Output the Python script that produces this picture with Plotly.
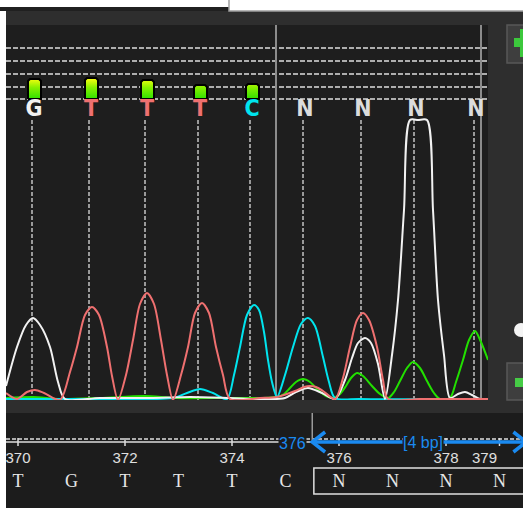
import plotly.graph_objects as go

W, H = 523, 508

# ---------------- data ----------------
call_scan = [32, 89, 145, 198, 250, 303, 361, 414, 474]
call_base = ["G", "T", "T", "T", "C", "N", "N", "N", "N"]
call_qual = [20, 21, 19, 14, 15]          # quality bar heights of the called bases

g_scan = [6, 17, 26, 33, 40, 50, 58, 65, 100, 150, 190, 230, 260, 285, 296, 308, 322, 335,
          345, 352, 358, 365, 371, 378, 385, 392, 398, 404, 410, 418, 427, 433, 438, 444, 450, 458, 465, 472, 480, 488]
g_sig = [14, 53, 75, 82, 75, 53, 18, 1, 2, 2, 3, 2, 1, 2, 8, 12, 7, 1,
         20, 42, 57, 62, 57, 36, 1, 45, 100, 190, 280, 280, 280, 190, 100, 45, 2, 6, 8, 5, 1, 1]

t_scan = [6, 17, 27, 35, 44, 60, 70, 77, 85, 92, 99, 107, 112, 118,
          126, 133, 140, 147, 154, 161, 167, 173,
          181, 188, 195, 202, 209, 216, 223, 230,
          260, 277, 295, 304, 310, 316, 323, 335,
          343, 350, 357, 363, 369, 377, 383, 388, 420, 488]
t_sig = [7, 1, 8, 10, 7, 0, 28, 53, 85, 93, 85, 53, 24, 0,
         25, 60, 96, 107, 96, 60, 25, 0,
         25, 53, 87, 97, 87, 53, 25, 1,
         2, 3, 9, 13, 14, 13, 9, 1,
         22, 53, 80, 87, 80, 53, 20, 1, 1, 1]

c_scan = [6, 100, 173, 187, 200, 213, 227, 234, 240, 247, 254, 259, 264, 268, 272, 277,
          285, 293, 301, 308, 315, 323, 329, 335, 360, 488]
c_sig = [1, 1, 2, 7, 11, 7, 1, 25, 53, 85, 95, 90, 68, 40, 18, 3,
         25, 53, 76, 82, 74, 43, 18, 2, 1, 1]

a_scan = [6, 33, 60, 100, 145, 175, 230, 260, 277, 284, 290, 296, 303, 310, 318, 326, 333,
          340, 346, 351, 357, 363, 372, 380, 388, 394, 400, 407, 413, 420, 427, 434, 440,
          450, 456, 463, 469, 475, 481, 488]
a_sig = [2, 3, 1, 2, 4, 2, 2, 2, 3, 6, 12, 18, 21, 18, 10, 4, 2,
         6, 14, 22, 27, 24, 14, 6, 2, 8, 19, 32, 38, 32, 19, 7, 1,
         2, 18, 40, 60, 69, 58, 40]

boundary_scans = [276, 481]
qual_levels = [352, 339, 326, 313, 301]

seq_pos = list(range(370, 380))
seq_base = list("TGTTTCNNNN")
ruler_ticks = [370, 372, 374, 376, 378]
last_tick = 379
sel_start, sel_end = 375.5, 379.5
sel_label = "[4 bp]"

# ---------------- styles ----------------
COL = {"G": "#f2f2f2", "T": "#ef7070", "C": "#00e4ee", "A": "#22e000", "N": "#dcdcdc"}
BLUE = "#1a8af0"


def PX(x):
    return x / W


def PY(y):
    return 1 - y / H


fig = go.Figure()

# traces (green, cyan, white, red)
for sc, sg, c in [(a_scan, a_sig, COL["A"]), (c_scan, c_sig, COL["C"]),
                  (g_scan, g_sig, COL["G"]), (t_scan, t_sig, COL["T"])]:
    fig.add_trace(go.Scatter(x=sc, y=sg, mode="lines",
                             line=dict(color=c, width=2, shape="spline", smoothing=0.8),
                             hoverinfo="skip", showlegend=False))

# quality bars
bar_base = qual_levels[-1]
for xs, q in zip(call_scan, call_qual):
    cx = xs + 2.5
    hw = 6.5
    ch = 2
    top = bar_base + q
    px_ = [cx - hw, cx - hw, cx - hw + ch, cx + hw - ch, cx + hw, cx + hw, cx - hw]
    py_ = [bar_base, top - ch, top, top, top - ch, bar_base, bar_base]
    fig.add_trace(go.Scatter(x=px_, y=py_, mode="lines", fill="toself",
                             line=dict(color="black", width=2),
                             fillgradient=dict(type="vertical",
                                               colorscale=[[0, "#2fe000"], [0.55, "#88f000"], [1, "#ffff10"]],
                                               start=bar_base, stop=bar_base + max(call_qual)),
                             hoverinfo="skip", showlegend=False))

# base call letters
fig.add_trace(go.Scatter(x=[s + 2 for s in call_scan], y=[290] * len(call_scan), mode="text",
                         text=call_base,
                         textfont=dict(family="Liberation Sans Narrow, DejaVu Sans Condensed, DejaVu Sans",
                                       size=23, color=[COL[b] for b in call_base], weight="bold"),
                         hoverinfo="skip", showlegend=False))

# sequence letters in ruler area
fig.add_trace(go.Scatter(x=seq_pos, y=[26] * len(seq_pos), mode="text", text=seq_base,
                         textfont=dict(family="Liberation Serif, DejaVu Serif", size=18, color="#e6e6e6"),
                         xaxis="x2", yaxis="y2", hoverinfo="skip", showlegend=False))

shapes = []


def prect(x0, y0, x1, y1, fill, line=None, lw=0):
    shapes.append(dict(type="rect", xref="paper", yref="paper", x0=PX(x0), x1=PX(x1),
                       y0=PY(y1), y1=PY(y0), fillcolor=fill,
                       line=dict(color=line or fill, width=lw), layer="below"))


# frame / panels
prect(6, 7, 540, 520, "#2e2e2e")
prect(0, 7, 229, 11, "#202020")
prect(229, -5, 540, 11, "#ffffff", "#a0a0a0", 1.5)
prect(6, 25, 488, 400, "#1e1e1e")
prect(6, 413, 540, 520, "#1c1c1c")
# zoom buttons
prect(507, 25, 540, 63, "#3e3e3e", "#585858", 1.5)
prect(514, 38, 545, 47, "#3cc83c")
prect(520, 29, 534, 57, "#3cc83c")
prect(507, 363, 540, 400, "#3e3e3e", "#585858", 1.5)
prect(515, 378, 545, 387, "#46cc46")
shapes.append(dict(type="circle", xref="paper", yref="paper", x0=PX(514), x1=PX(528),
                   y0=PY(337), y1=PY(323), fillcolor="#f4f4f4", line=dict(width=0), layer="below"))

# quality threshold dashed lines
for q in qual_levels:
    shapes.append(dict(type="line", xref="paper", yref="y", x0=PX(6), x1=PX(488), y0=q, y1=q,
                       line=dict(color="#dedede", width=1.5, dash="5px,2px"), layer="below"))
# call dashed lines
for s in call_scan:
    shapes.append(dict(type="line", xref="x", yref="y", x0=s, x1=s, y0=0, y1=282,
                       line=dict(color="#c4c4c4", width=1.5, dash="4px,2px"), layer="below"))
# trim boundaries
for s in boundary_scans:
    shapes.append(dict(type="line", xref="x", yref="y", x0=s, x1=s, y0=0, y1=375,
                       line=dict(color="#8c8c8c", width=2), layer="below"))

# ruler
shapes.append(dict(type="line", xref="x2 domain", yref="y2", x0=0, x1=1, y0=69, y1=69,
                   line=dict(color="#dddddd", width=1.5, dash="4px,2px"), layer="below"))
shapes.append(dict(type="line", xref="x2 domain", yref="y2", x0=0, x1=1, y0=66, y1=66,
                   line=dict(color="#dddddd", width=1.5), layer="below"))
for t in ruler_ticks + [last_tick]:
    shapes.append(dict(type="line", xref="x2", yref="y2", x0=t, x1=t, y0=62, y1=70,
                       line=dict(color="#dddddd", width=1.5), layer="below"))
# selection marker
shapes.append(dict(type="line", xref="x2", yref="y2", x0=sel_start, x1=sel_start, y0=95, y1=66,
                   line=dict(color="#9a9a9a", width=1.5)))
shapes.append(dict(type="rect", xref="x2", yref="y2", x0=sel_start + 0.03, x1=sel_end + 0.3, y0=14, y1=40,
                   line=dict(color="#e0e0e0", width=1.5), fillcolor="rgba(0,0,0,0)"))
shapes.append(dict(type="line", xref="x2", yref="y2", x0=sel_start, x1=sel_end, y0=66, y1=66,
                   line=dict(color=BLUE, width=3.5)))
ah = 0.24
shapes.append(dict(type="path", xref="x2", yref="y2",
                   path=f"M {sel_start + ah},76 L {sel_start},66 L {sel_start + ah},56",
                   line=dict(color=BLUE, width=3.5)))
shapes.append(dict(type="path", xref="x2", yref="y2",
                   path=f"M {sel_end - ah},76 L {sel_end},66 L {sel_end - ah},56",
                   line=dict(color=BLUE, width=3.5)))

annotations = [
    dict(x=(sel_start + sel_end) / 2, y=66, xref="x2", yref="y2", text=sel_label, showarrow=False,
         xshift=4, font=dict(family="Liberation Sans, Arial", size=16, color=BLUE),
         bgcolor="#1c1c1c", borderpad=0),
    dict(x=sel_start, y=65, xref="x2", yref="y2", text=str(int(sel_start + 0.5)), showarrow=False,
         xanchor="right", xshift=-5, font=dict(family="Liberation Sans, Arial", size=16, color=BLUE),
         bgcolor="#1c1c1c", borderpad=0),
    dict(x=last_tick, y=51, xref="x2", yref="y2", text=str(last_tick), showarrow=False,
         xshift=-15, font=dict(family="Liberation Sans, Arial", size=15, color="#e0e0e0")),
]

x2_lo = 370 - 12 / 53.5
x2_hi = 370 + 505 / 53.5

fig.update_layout(
    width=W, height=H, margin=dict(l=0, r=0, t=0, b=0),
    paper_bgcolor="#ffffff", plot_bgcolor="rgba(0,0,0,0)",
    showlegend=False,
    xaxis=dict(domain=[PX(6), PX(488)], range=[6, 488], visible=False, fixedrange=True),
    yaxis=dict(domain=[PY(400), PY(25)], range=[0, 375], visible=False, fixedrange=True),
    xaxis2=dict(domain=[PX(6), 1], range=[x2_lo, x2_hi], anchor="free", position=PY(447),
                tickvals=ruler_ticks, ticktext=[str(t) for t in ruler_ticks],
                showgrid=False, zeroline=False, showline=False, ticks="",
                tickfont=dict(family="Liberation Sans, Arial", size=15, color="#e0e0e0")),
    yaxis2=dict(domain=[0, PY(413)], range=[0, 95], anchor="x2", visible=False),
    shapes=shapes, annotations=annotations,
)

fig.write_html("out.html", config={"displayModeBar": False},
               post_script="document.body.style.margin='0';document.body.style.overflow='hidden';")
